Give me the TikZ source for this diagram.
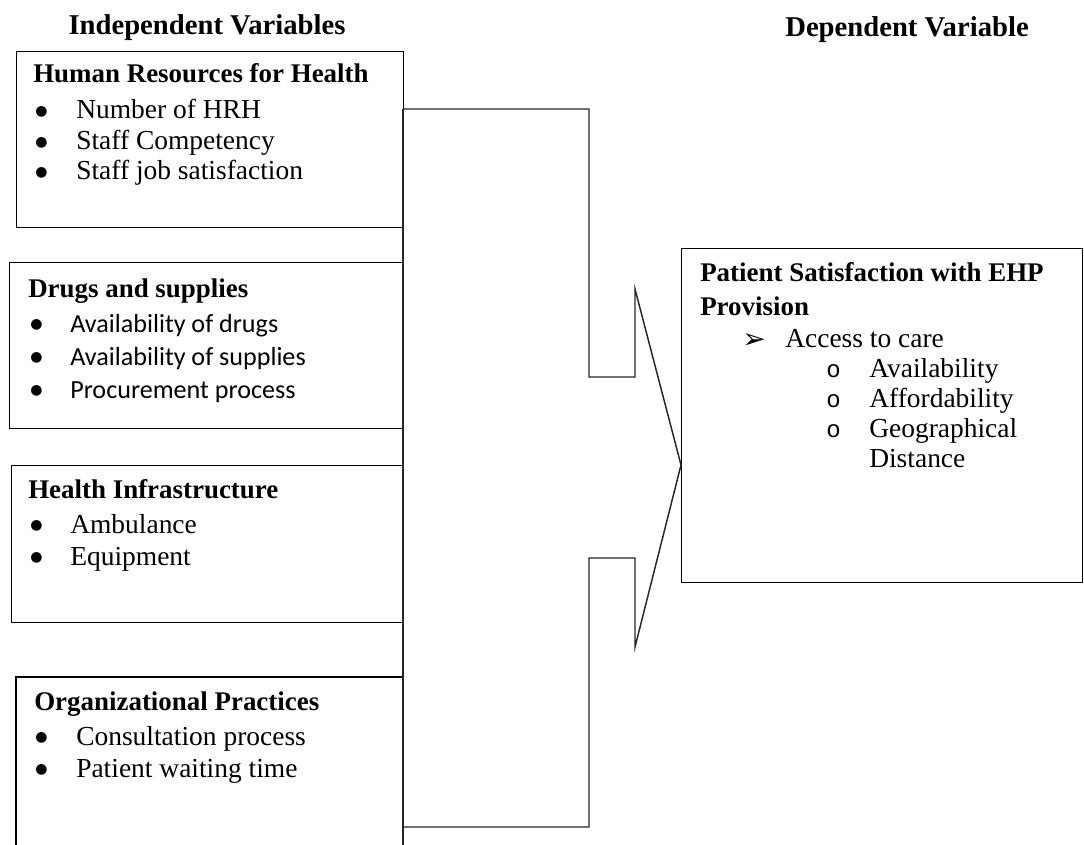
\documentclass[tikz,border=0pt]{standalone}
\usepackage{fontspec}
\setmainfont{Liberation Serif}
\newfontfamily\calibrifont{Carlito}
\newfontfamily\dejavufont{DejaVu Sans}
\newfontfamily\monofont{Liberation Mono}
\newcommand{\bulmark}[1]{\makebox[#1][l]{\raisebox{2.8pt}{\dejavufont\fontsize{10.5}{12}\selectfont ●}}}
\newcommand{\obulmark}{\makebox[32.25pt][l]{\monofont\fontsize{18}{18}\selectfont o}}
\newcommand{\abulmark}{\makebox[32.25pt][l]{\raisebox{-0.75pt}{\dejavufont\bfseries\fontsize{21}{21}\selectfont ➢}}}
\begin{document}
\begin{tikzpicture}[x=0.75pt,y=-0.75pt,
  boxline/.style={draw=black, line width=1.1pt},
  link/.style={draw=black!85, line width=1.1pt, line join=miter},
  txt/.style={anchor=base west, inner sep=0pt, font=\fontsize{20.6}{24}\selectfont},
  ctxt/.style={anchor=base west, inner sep=0pt, font=\calibrifont\fontsize{19.6}{24}\selectfont},
  ttl/.style={anchor=base west, inner sep=0pt, font=\fontsize{20.2}{24}\selectfont\bfseries},
  head/.style={anchor=base, inner sep=0pt, font=\fontsize{21.5}{24}\selectfont\bfseries}]
\useasboundingbox (0,0) rectangle (1084,845);

% headings
\node[head] (hind) at (207,35) {Independent Variables};
\node[head] (hdep) at (907,37) {Dependent Variable};

% boxes
\node[boxline, anchor=north west, minimum width=387*0.75pt, minimum height=176*0.75pt, inner sep=0pt] (hrh) at (16,51) {};
\node[boxline, anchor=north west, minimum width=394*0.75pt, minimum height=166*0.75pt, inner sep=0pt] (drug) at (9,262) {};
\node[boxline, anchor=north west, minimum width=392*0.75pt, minimum height=157*0.75pt, inner sep=0pt] (infra) at (11,465) {};
\node[boxline, anchor=north west, minimum width=401*0.75pt, minimum height=334*0.75pt, inner sep=0pt] (dep) at (681,248) {};
\coordinate (orgNE) at (403,677);
\coordinate (orgNW) at (16,677);
\coordinate (orgSW) at (16,845);
\draw[boxline] (orgNE) -- (orgNW) -- (orgSW);

% HRH text
\node[ttl] (t1) at (33,83) {Human Resources for Health};
\node[txt] (h1) at (35,119) {\bulmark{30.75pt}Number of HRH};
\node[txt] (h2) at (35,150) {\bulmark{30.75pt}Staff Competency};
\node[txt] (h3) at (35,180) {\bulmark{30.75pt}Staff job satisfaction};

% Drugs text
\node[ttl] (t2) at (28,297) {Drugs and supplies};
\node[ctxt] (d1) at (30,332) {\bulmark{30pt}Availability of drugs};
\node[ctxt] (d2) at (30,365) {\bulmark{30pt}Availability of supplies};
\node[ctxt] (d3) at (30,398) {\bulmark{30pt}Procurement process};

% Infrastructure text
\node[ttl] (t3) at (28,498) {Health Infrastructure};
\node[txt] (i1) at (30,533) {\bulmark{30pt}Ambulance};
\node[txt] (i2) at (30,565) {\bulmark{30pt}Equipment};

% Organizational text
\node[ttl] (t4) at (34,710) {Organizational Practices};
\node[txt] (o1) at (35,745) {\bulmark{30.75pt}Consultation process};
\node[txt] (o2) at (35,777) {\bulmark{30.75pt}Patient waiting time};

% Dependent text
\node[ttl] (t5) at (700,281) {Patient Satisfaction with EHP};
\node[ttl] (t6) at (700,315) {Provision};
\node[txt] (a0) at (742,347) {\abulmark Access to care};
\node[txt] (a1) at (826,377) {\obulmark Availability};
\node[txt] (a2) at (826,407) {\obulmark Affordability};
\node[txt] (a3) at (826,437) {\obulmark Geographical};
\node[txt] (a4) at (869,467) {Distance};

% connector shape
\coordinate (trTop) at (403,109);
\coordinate (trBot) at (403,845);
\coordinate (tip) at (dep.west |- 0,465);
\draw[link] (trTop) -- (trBot);
\draw[link] (trTop) -- (589,109) -- (589,377) -- (635,377) -- (635,289) -- (tip)
  -- (635,647) -- (635,558) -- (589,558) -- (589,827) -- (403,827);
\end{tikzpicture}
\end{document}
